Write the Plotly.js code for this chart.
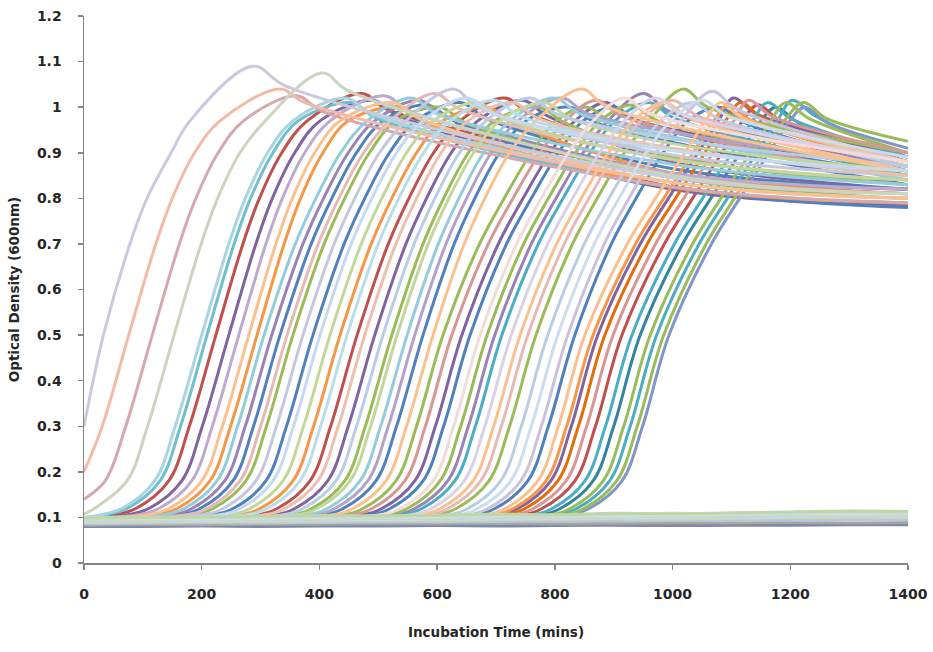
<!DOCTYPE html>
<html><head><meta charset="utf-8">
<script src="https://cdn.plot.ly/plotly-3.0.1.min.js"></script>
<style>html,body{margin:0;padding:0;background:#fff}#chart{width:933px;height:652px}</style>
</head><body><div id="chart"></div>
<script>
// OD levels at which each growth curve's rise was read (times in minutes)
const riseLevels = [0.105, 0.12, 0.18, 0.30, 0.50, 0.70, 0.80, 0.90, 0.97];
const startOD = [0.30,0.20,0.14,0.107,0.10,0.10,0.10,0.10,0.10,0.10,
  0.10,0.10,0.10,0.10,0.10,0.10,0.10,0.10,0.10,0.10,
  0.10,0.10,0.10,0.10,0.10,0.10,0.10,0.10,0.10,0.10,
  0.10,0.10,0.10,0.10,0.10,0.10,0.10,0.10,0.10,0.10,
  0.10,0.10,0.10,0.10,0.10,0.10,0.10,0.10,0.10,0.10,
  0.10,0.10,0.10,0.10,0.10,0.10,0.10,0.10,0.10,0.10];
const riseTimes = [
  [null,null,null,null,33,78,107,148,180],
  [null,null,null,31,76,122,150,188,231],
  [null,null,36,71,116,162,190,228,271],
  [null,18,73,108,153,199,227,265,308],
  [25,65,120,155,200,246,274,312,355],
  [34,74,129,164,209,255,283,321,364],
  [49,89,144,179,224,270,298,336,379],
  [71,111,166,201,246,292,320,358,401],
  [88,128,183,218,263,309,337,375,418],
  [105,145,200,235,280,326,354,392,435],
  [119,159,214,249,294,340,368,406,449],
  [131,171,226,261,306,359,394,436,481],
  [144,184,239,274,319,372,407,449,494],
  [158,198,253,288,333,386,421,463,508],
  [170,210,265,300,345,398,433,475,520],
  [180,220,275,310,355,408,443,485,530],
  [197,237,292,327,372,425,460,502,547],
  [214,254,309,344,389,442,477,519,564],
  [226,266,321,356,401,454,489,531,576],
  [243,283,338,373,418,471,506,548,593],
  [260,300,355,390,435,488,523,565,610],
  [272,312,367,402,447,500,535,577,622],
  [289,329,384,419,464,517,552,594,639],
  [302,342,397,432,477,530,565,607,652],
  [319,359,414,449,494,547,582,624,669],
  [333,373,428,463,508,561,596,638,683],
  [348,388,443,478,523,576,611,653,698],
  [357,397,452,487,532,585,620,662,707],
  [374,414,469,504,549,602,637,679,724],
  [387,427,482,517,562,615,650,692,737],
  [401,441,496,531,576,629,664,706,751],
  [418,458,513,548,593,646,681,723,768],
  [435,475,530,565,610,672,714,760,802],
  [450,490,545,580,625,687,729,775,817],
  [467,507,562,597,642,704,746,792,834],
  [481,521,576,611,656,718,760,806,848],
  [498,538,593,628,673,735,777,823,865],
  [510,550,605,640,685,747,789,835,877],
  [523,563,618,653,698,760,802,848,890],
  [535,575,630,665,710,772,814,860,902],
  [551,591,646,681,726,788,830,876,918],
  [566,606,661,696,741,803,845,891,933],
  [579,619,674,709,754,816,858,904,946],
  [593,633,688,723,768,830,872,918,960],
  [613,653,708,743,788,850,892,938,980],
  [630,670,725,760,805,867,909,955,997],
  [647,687,742,777,822,884,926,972,1014],
  [659,699,754,789,834,896,938,984,1026],
  [676,716,771,806,851,923,971,1021,1056],
  [690,730,785,820,865,937,985,1035,1070],
  [698,738,793,828,873,945,993,1043,1078],
  [710,750,805,840,885,957,1005,1055,1090],
  [724,764,819,854,899,971,1019,1069,1104],
  [739,779,834,869,914,986,1034,1084,1119],
  [756,796,851,886,931,1003,1051,1101,1136],
  [770,810,865,900,945,1017,1065,1115,1150],
  [787,827,882,917,962,1034,1082,1132,1167],
  [798,838,893,928,973,1045,1093,1143,1178],
  [810,850,905,940,985,1057,1105,1155,1190],
  [819,859,914,949,994,1066,1114,1164,1199]
];
const peakTime = [286,333,361,404,445,454,472,491,510,525,539,556,569,583,595,605,627,639,651,668,
  685,697,714,729,744,758,773,782,799,812,826,845,855,870,887,901,918,930,950,960,
  971,986,999,1018,1033,1050,1067,1079,1081,1095,1103,1115,1129,1144,1161,1175,1192,1203,1222,1224];
const peakOD = [1.09,1.04,1.025,1.075,1.02,1.01,1.03,1.015,1.025,1.01,1.0,1.02,1.015,1.005,1.03,1.0,1.04,1.01,1.02,1.01,
  1.0,1.015,1.02,1.01,1.015,1.02,1.0,1.01,1.02,1.02,1.0,1.04,1.0,1.015,1.01,1.0,1.02,1.005,1.03,1.01,
  1.02,1.01,1.015,1.04,1.01,1.015,1.035,1.0,1.01,1.005,1.02,1.01,1.015,1.005,1.01,1.0,1.01,1.015,1.01,1.0];
const dropTime = [345,375,406,450,490,499,515,536,555,570,584,601,614,628,640,650,670,684,696,713,
  730,742,759,772,789,803,818,827,844,857,871,890,900,915,932,946,963,975,995,1005,
  1016,1031,1044,1060,1078,1095,1110,1124,1121,1135,1143,1155,1169,1184,1201,1215,1232,1243,1262,1264];
const dropOD = [1.045,1.01,0.99,1.035,0.985,0.975,0.995,0.98,0.99,0.975,0.965,0.985,0.98,0.97,0.995,0.965,1.0,0.975,0.985,0.975,
  0.965,0.98,0.985,0.975,0.98,0.985,0.965,0.975,0.985,0.985,0.965,1.0,0.965,0.98,0.975,0.965,0.985,0.97,0.99,0.975,
  0.985,0.975,0.98,1.0,0.975,0.98,0.995,0.965,0.975,0.97,0.985,0.975,0.98,0.97,0.975,0.965,0.975,0.98,0.975,0.965];
const midTime = 1000;
const midOD = [0.845,0.835,0.825,0.85,0.835,0.825,0.855,0.82,0.855,0.835,0.825,0.875,0.855,0.825,0.885,0.845,0.895,0.865,0.905,0.885,
  0.855,0.905,0.89,0.91,0.88,0.93,0.89,0.92,null,null,null,null,null,null,null,null,null,null,null,null,
  null,null,null,null,null,null,null,null,null,null,null,null,null,null,null,null,null,null,null,null];
const endTime = 1400;
const endOD = [0.81,0.80,0.79,0.81,0.80,0.79,0.82,0.785,0.82,0.80,0.79,0.83,0.81,0.78,0.84,0.80,0.85,0.82,0.86,0.84,
  0.81,0.86,0.83,0.85,0.82,0.87,0.83,0.86,0.84,0.87,0.83,0.86,0.85,0.84,0.86,0.85,0.88,0.86,0.87,0.85,
  0.88,0.86,0.88,0.90,0.87,0.89,0.88,0.86,0.88,0.87,0.89,0.88,0.90,0.88,0.89,0.88,0.90,0.89,0.925,0.91];
const curveColors = ['#C8CBDE','#F3BBA5','#D5A8B0','#CBD5BE','#A9D4E1','#6FBFCF','#C0504D','#8064A2','#BFA9CF','#FAC090',
  '#F79646','#93CDDD','#9983B5','#4F81BD','#E6B9B8','#9BBB59','#C3C8DE','#4F81BD','#C6D9F1','#C3D69B',
  '#F79646','#B7DEE8','#C0504D','#EDBFAE','#8064A2','#B9CDE5','#9BBB59','#C3D69B','#93CDDD','#B3A2C7',
  '#4F81BD','#FAC090','#9BBB59','#D99694','#8064A2','#4F81BD','#F2DCDB','#9BBB59','#9983B5','#4BACC6',
  '#D9D2E6','#FAC090','#E6B9B8','#9BBB59','#B9CDE5','#CDDDEE','#CCC1DA','#4F81BD','#FAC090','#F79646',
  '#8064A2','#E46C0A','#D99694','#C0504D','#4BACC6','#31859C','#9BBB59','#4BACC6','#9BBB59','#7F96C9'];

// wells with no growth
const flatTimes = [0,100,200,300,400,500,600,700,800,900,1000,1100,1200,1300,1400];
const flatOD = [
  [0.080,0.080,0.081,0.080,0.081,0.081,0.082,0.081,0.082,0.083,0.082,0.083,0.083,0.084,0.084],
  [0.083,0.084,0.084,0.085,0.085,0.086,0.086,0.087,0.086,0.087,0.088,0.088,0.089,0.088,0.089],
  [0.086,0.087,0.088,0.088,0.089,0.090,0.090,0.091,0.092,0.092,0.093,0.093,0.094,0.095,0.095],
  [0.089,0.090,0.091,0.091,0.092,0.094,0.093,0.095,0.096,0.097,0.096,0.098,0.099,0.100,0.101],
  [0.091,0.092,0.093,0.094,0.094,0.095,0.096,0.097,0.098,0.099,0.100,0.101,0.102,0.103,0.104],
  [0.093,0.094,0.095,0.095,0.096,0.098,0.097,0.099,0.100,0.101,0.103,0.102,0.104,0.105,0.106],
  [0.095,0.096,0.096,0.097,0.098,0.099,0.100,0.101,0.103,0.102,0.104,0.106,0.105,0.107,0.108],
  [0.097,0.097,0.098,0.099,0.100,0.101,0.102,0.104,0.103,0.105,0.106,0.107,0.109,0.108,0.110],
  [0.098,0.099,0.100,0.101,0.102,0.103,0.104,0.106,0.105,0.107,0.109,0.108,0.111,0.112,0.112],
  [0.099,0.100,0.101,0.102,0.104,0.103,0.105,0.107,0.106,0.109,0.108,0.110,0.112,0.114,0.113]
];
const flatColors = ['#7B8AA6','#A5A5A5','#B9C7D8','#C6D9B0','#D0D8E8','#CFCFCF','#B7DEE8','#D7E4BD','#C9D3E3','#BFD7A8'];

function lum(hex){const n=parseInt(hex.slice(1),16);return 0.299*(n>>16)+0.587*((n>>8)&255)+0.114*(n&255);}

const growth = riseTimes.map((row,i)=>{
  const x=[0], y=[startOD[i]];
  row.forEach((t,j)=>{ if(t!==null && t>0){ x.push(t); y.push(riseLevels[j]); } });
  x.push(peakTime[i]); y.push(peakOD[i]);
  x.push(dropTime[i]); y.push(dropOD[i]);
  if(midOD[i]!==null){ x.push(midTime); y.push(midOD[i]); }
  x.push(endTime); y.push(endOD[i]);
  return {type:'scatter',mode:'lines',x:x,y:y,hoverinfo:'skip',
    line:{color:curveColors[i],width:3,shape:'spline',smoothing:1}};
});
// darker lines underneath, paler lines on top
growth.sort((a,b)=>lum(a.line.color)-lum(b.line.color));
const flats = flatOD.map((row,i)=>({type:'scatter',mode:'lines',x:flatTimes,y:row,hoverinfo:'skip',
  line:{color:flatColors[i],width:3,shape:'spline',smoothing:1}}));

const tickFont = {family:'DejaVu Sans, Verdana, sans-serif', size:14, color:'#262626', weight:'bold'};
const titleFont = {family:'DejaVu Sans, Verdana, sans-serif', size:13.5, color:'#262626', weight:'bold'};
const layout = {
  width:933, height:652,
  margin:{l:84, r:25, t:16, b:89},
  paper_bgcolor:'#ffffff', plot_bgcolor:'#ffffff',
  showlegend:false,
  xaxis:{range:[0,1400], tick0:0, dtick:200, showgrid:false, zeroline:false,
    showline:true, linecolor:'#868686', linewidth:1.5, ticks:'outside', ticklen:5, tickwidth:1.5, tickcolor:'#868686',
    tickfont:tickFont, ticklabelstandoff:13,
    title:{text:'Incubation Time (mins)', font:titleFont, standoff:26}},
  yaxis:{range:[0,1.2], tick0:0, dtick:0.1, showgrid:false, zeroline:false,
    showline:true, linecolor:'#868686', linewidth:1.5, ticks:'outside', ticklen:5, tickwidth:1.5, tickcolor:'#868686',
    tickfont:tickFont, ticklabelstandoff:13,
    title:{text:'Optical Density (600nm)', font:titleFont, standoff:14}}
};
Plotly.newPlot('chart', growth.concat(flats), layout, {staticPlot:true, displayModeBar:false});
</script></body></html>
